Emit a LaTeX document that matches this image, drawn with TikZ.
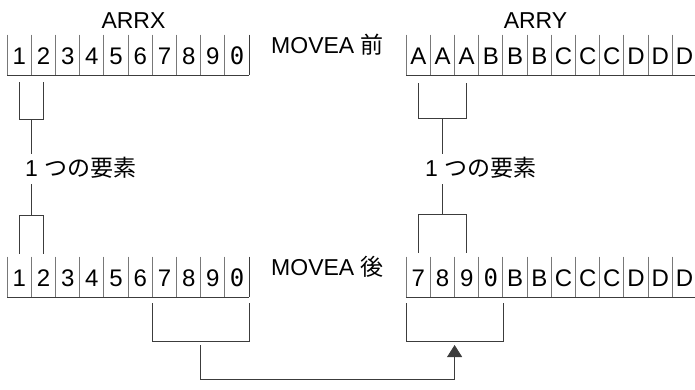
\documentclass[tikz,border=0pt]{standalone}
\usepackage{fontspec}
\setmainfont{Liberation Sans}
\newfontfamily\jpfont{Noto Sans CJK JP}
\newfontfamily\monofont{DejaVu Sans Mono}
\usetikzlibrary{arrows.meta,calc}
\definecolor{rulegray}{RGB}{60,60,60}
\definecolor{sepgray}{RGB}{120,120,120}
\newcommand{\zr}{{\monofont 0}}

\begin{document}
\begin{tikzpicture}[x=1pt,y=-1pt,font=\fontsize{23pt}{27pt}\selectfont,
  cell/.style={anchor=south west,minimum width=24.2pt,minimum height=40pt,inner sep=0pt,text height=20pt,text depth=0pt,font=\fontsize{24pt}{28pt}\selectfont},
  sep/.style={sepgray,line width=0.8pt},
  edge/.style={rulegray,line width=0.9pt},
  lbl/.style={anchor=base west,inner xsep=0pt,inner ysep=5pt,text height=17pt,text depth=3pt}]
\useasboundingbox (0,0) rectangle (695,389);
% the four rows of cells: before and after MOVEA
\foreach \v [count=\i] in {1,2,3,4,5,6,7,8,9,\zr}
  \node[cell] (xa\i) at ({7+(\i-1)*24.2},75) {\v};
\foreach \v [count=\i] in {A,A,A,B,B,B,C,C,C,D,D,D}
  \node[cell] (ya\i) at ({406+(\i-1)*24.2},75) {\v};
\foreach \v [count=\i] in {1,2,3,4,5,6,7,8,9,\zr}
  \node[cell] (xb\i) at ({7+(\i-1)*24.2},297) {\v};
\foreach \v [count=\i] in {7,8,9,\zr,B,B,C,C,C,D,D,D}
  \node[cell] (yb\i) at ({406+(\i-1)*24.2},297) {\v};
% cell walls and base lines
\foreach \r/\n in {xa/10,ya/12,xb/10,yb/12}{
  \foreach \i in {1,...,\n}
    \draw[sep] (\r\i.north west) -- (\r\i.south west);
  \draw[edge] (\r1.south west) -- (\r\n.south east);
}
\draw[edge] (xa10.north east) -- (xa10.south east);
\draw[edge] (xb10.north east) -- (xb10.south east);
% titles
\node[anchor=base] (arrx) at (133.5,28.5) {ARRX};
\node[anchor=base] (arry) at (535.5,28.5) {ARRY};
\node[anchor=base west,inner sep=0pt] (mvpre) at (271,53) {MOVEA {\jpfont 前}};
\node[anchor=base west,inner sep=0pt] (mvpost) at (271,275) {MOVEA {\jpfont 後}};
% one element, ARRX side
\node[lbl] (elx) at (25,176) {1 {\jpfont つの要素}};
\draw[edge] ([yshift=-7pt]xa1.south) -- ++(0,37) -| ([yshift=-7pt]xa2.south);
\coordinate (mxa) at ($(xa1.south)!0.5!(xa2.south)+(0,44)$);
\draw[edge] (mxa) -- (mxa |- elx.north);
\draw[edge] ([yshift=3pt]xb1.north) -- ++(0,-38) -| ([yshift=3pt]xb2.north);
\coordinate (mxb) at ($(xb1.north)!0.5!(xb2.north)+(0,-41)$);
\draw[edge] (elx.south -| mxb) -- (mxb);
% one element, ARRY side
\node[lbl] (ely) at (425,176) {1 {\jpfont つの要素}};
\draw[edge] ([yshift=-8pt]ya1.south) -- ++(0,35) -| ([yshift=-8pt]ya3.south);
\coordinate (mya) at ($(ya1.south)!0.5!(ya3.south)+(0,43)$);
\draw[edge] (mya) -- (mya |- ely.north);
\draw[edge] ([yshift=4pt]yb1.north) -- ++(0,-38) -| ([yshift=4pt]yb3.north);
\coordinate (myb) at ($(yb1.north)!0.5!(yb3.north)+(0,-42)$);
\draw[edge] (ely.south -| myb) -- (myb);
% moved block 7890 -> ARRY
\draw[edge] ([yshift=-6pt]xb7.south west) -- ++(0,38) -| ([yshift=-6pt]xb10.south east);
\draw[edge] ([yshift=-6pt]yb1.south west) -- ++(0,38) -| ([yshift=-6pt]yb4.south east);
\coordinate (src) at ($(xb7.south west)!0.5!(xb10.south east)+(0,48)$);
\coordinate (dst) at ($(yb1.south west)!0.5!(yb4.south east)+(0,48)$);
\draw[edge,-{Triangle[width=15pt,length=12pt]}] (src) -- ++(0,34) -| (dst);
\end{tikzpicture}
\end{document}
